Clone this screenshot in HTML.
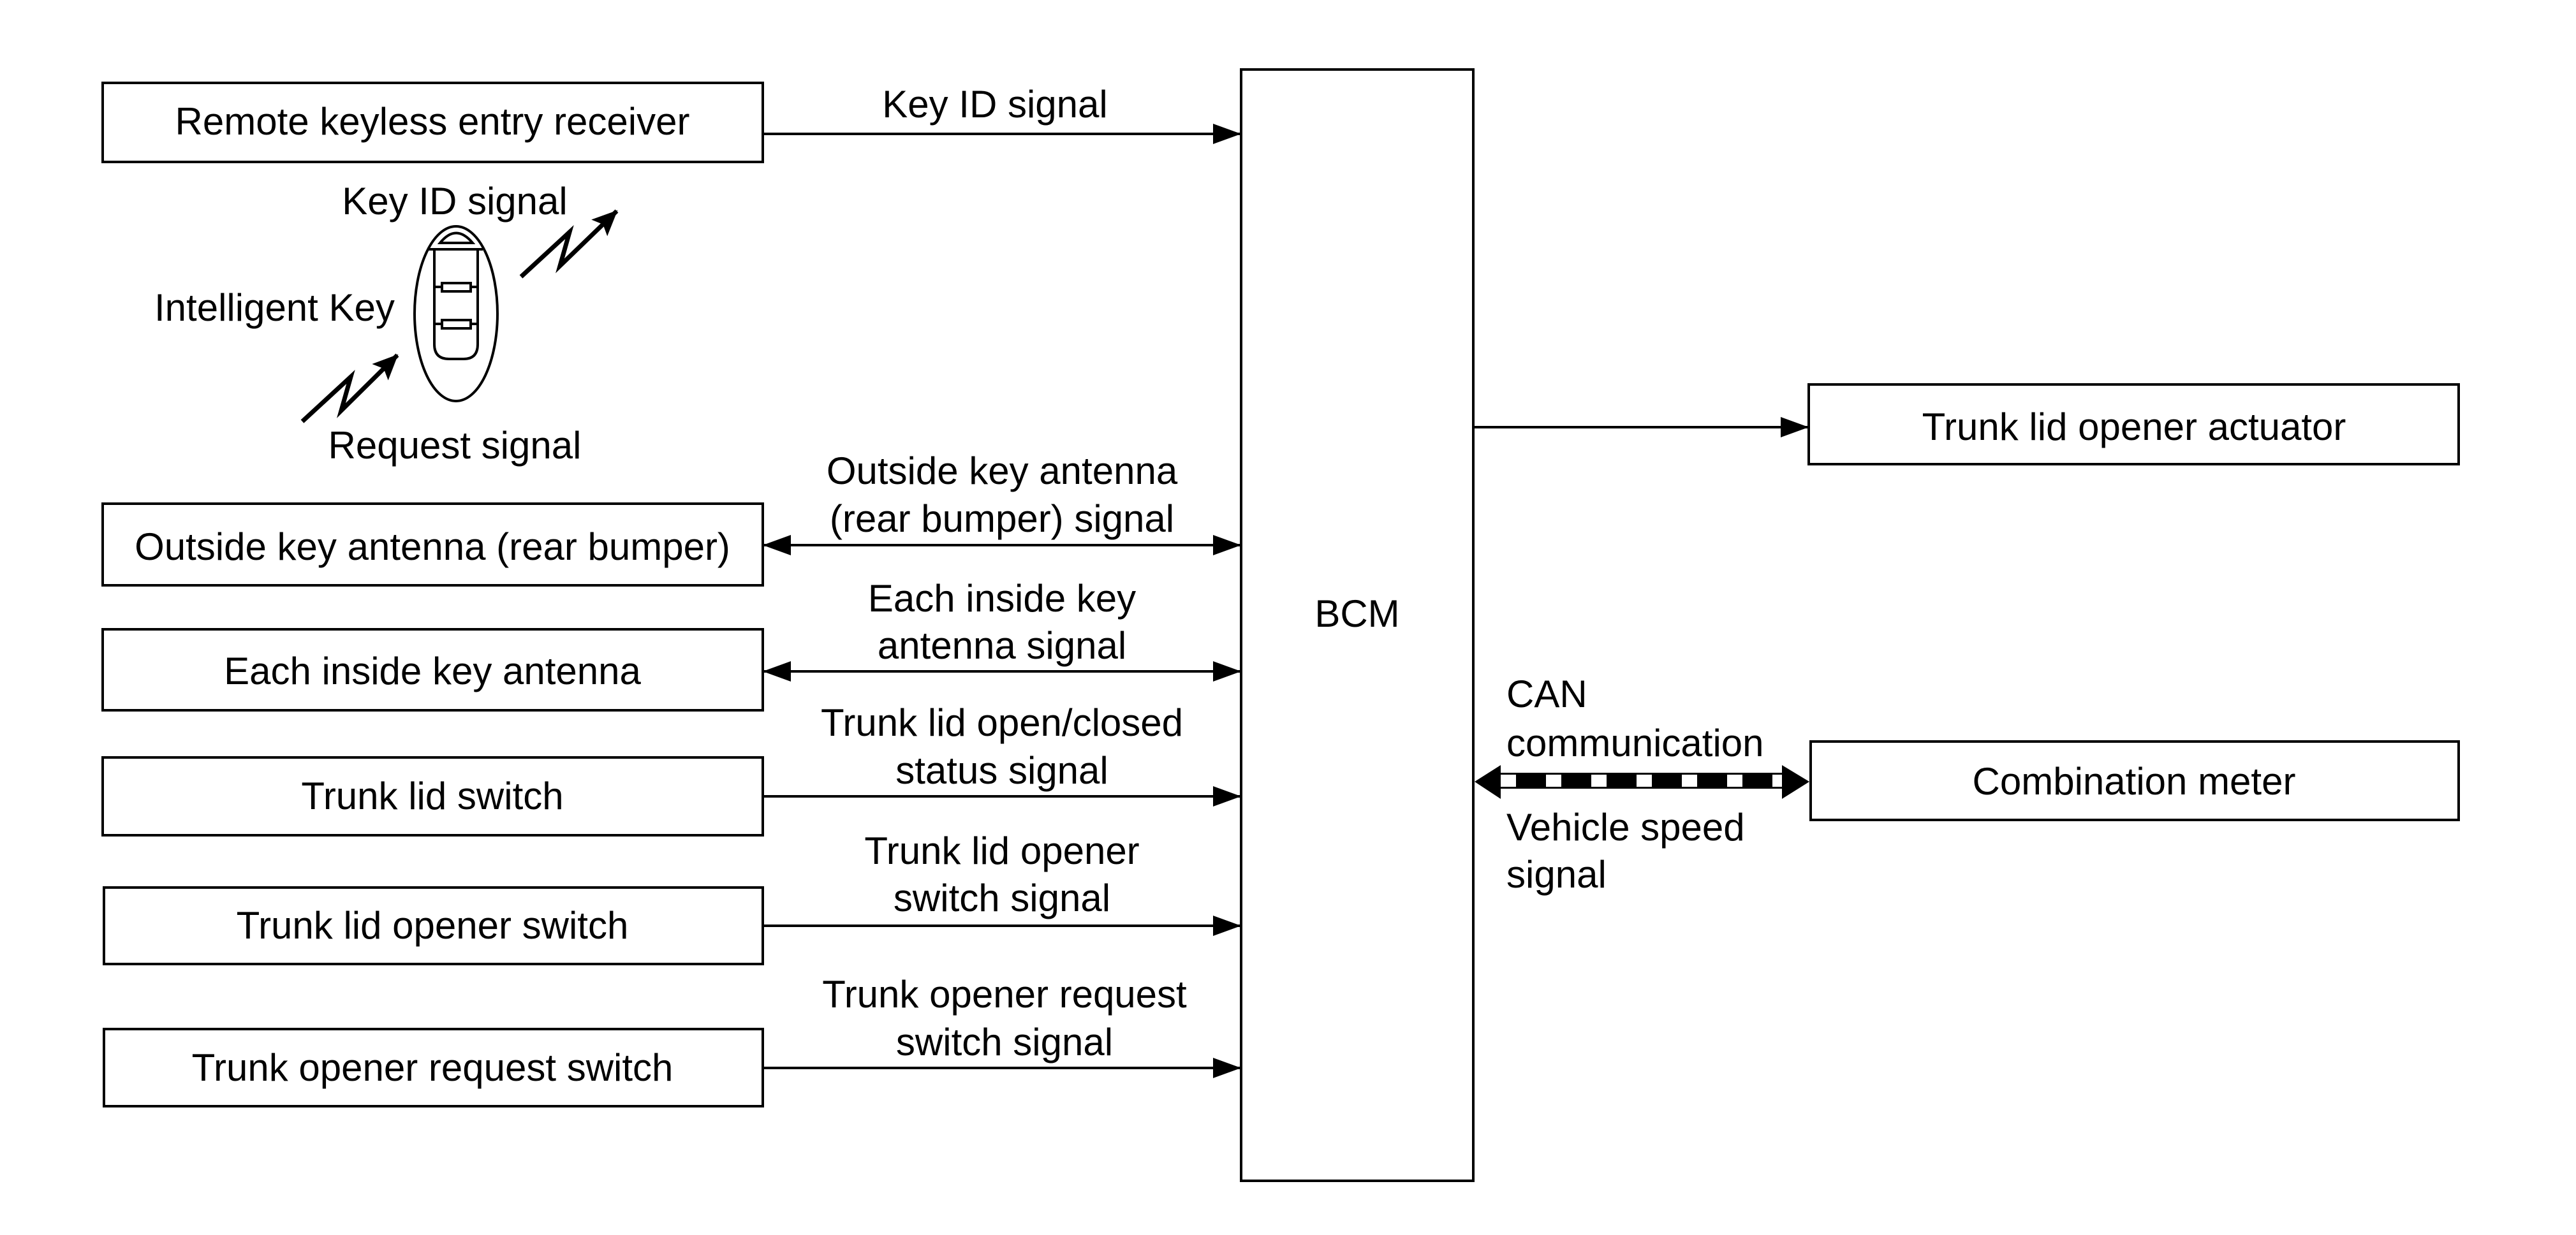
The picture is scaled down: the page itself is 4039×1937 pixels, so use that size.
<!DOCTYPE html>
<html><head><meta charset="utf-8"><style>
html,body{margin:0;padding:0;background:#fff;}
svg{display:block;}
text{font-family:"Liberation Sans",Arial,sans-serif;font-size:60px;fill:#000;}
</style></head><body>
<svg width="4039" height="1937" viewBox="0 0 4039 1937" xmlns="http://www.w3.org/2000/svg">
<defs>
<marker id="ah" markerWidth="44" markerHeight="32" refX="44" refY="16" orient="auto" markerUnits="userSpaceOnUse">
<path d="M0,0 L44,16 L0,32 Z" fill="#000"/></marker>
<marker id="ahs" markerWidth="44" markerHeight="32" refX="0" refY="16" orient="auto" markerUnits="userSpaceOnUse">
<path d="M44,0 L0,16 L44,32 Z" fill="#000"/></marker>
<marker id="zz" markerWidth="40" markerHeight="36" refX="38" refY="18" orient="auto" markerUnits="userSpaceOnUse">
<path d="M0,0 L40,18 L0,36 L8,18 Z" fill="#000"/></marker>
</defs>
<g fill="none" stroke="#000" stroke-width="4">
<rect x="161" y="130" width="1035" height="124"/>
<rect x="161" y="790" width="1035" height="128"/>
<rect x="161" y="987" width="1035" height="127"/>
<rect x="161" y="1188" width="1035" height="122"/>
<rect x="163" y="1392" width="1033" height="120"/>
<rect x="163" y="1614" width="1033" height="121"/>
<rect x="1946" y="109" width="364" height="1743"/>
<rect x="2836" y="603" width="1019" height="125"/>
<rect x="2839" y="1163" width="1016" height="123"/>
<line x1="1196" y1="210" x2="1946" y2="210" marker-end="url(#ah)"/>
<line x1="1196" y1="855" x2="1946" y2="855" marker-end="url(#ah)" marker-start="url(#ahs)"/>
<line x1="1196" y1="1053" x2="1946" y2="1053" marker-end="url(#ah)" marker-start="url(#ahs)"/>
<line x1="1196" y1="1249" x2="1946" y2="1249" marker-end="url(#ah)"/>
<line x1="1196" y1="1452" x2="1946" y2="1452" marker-end="url(#ah)"/>
<line x1="1196" y1="1675" x2="1946" y2="1675" marker-end="url(#ah)"/>
<line x1="2310" y1="670" x2="2836" y2="670" marker-end="url(#ah)"/>
<ellipse cx="715" cy="492" rx="65" ry="137"/>
<line x1="672" y1="391" x2="757" y2="391"/>
<path d="M690,381 Q715,350 741,381 Z"/>
<path d="M681,391 L681,540 Q681,563 704,563 L727,563 Q749,563 749,540 L749,391"/>
<line x1="681" y1="450" x2="749" y2="450"/>
<line x1="681" y1="508" x2="749" y2="508"/>
<rect x="693" y="444" width="45" height="13" fill="#fff"/>
<rect x="693" y="502" width="45" height="13" fill="#fff"/>
<polyline points="817,434 893,364 878,417 967,331" stroke-width="7" marker-end="url(#zz)"/>
<polyline points="474,661 550,591 535,644 623,557" stroke-width="7" marker-end="url(#zz)"/>
</g>
<rect x="2350" y="1212" width="446" height="25" fill="#000"/>
<g fill="#fff">
<rect x="2353" y="1215" width="24" height="19"/>
<rect x="2424" y="1215" width="24" height="19"/>
<rect x="2495" y="1215" width="24" height="19"/>
<rect x="2566" y="1215" width="24" height="19"/>
<rect x="2637" y="1215" width="24" height="19"/>
<rect x="2708" y="1215" width="24" height="19"/>
<rect x="2779" y="1215" width="16" height="19"/>
</g>
<path d="M2312,1226 L2353,1200 L2353,1253 Z" fill="#000"/>
<path d="M2837,1226 L2794,1200 L2794,1253 Z" fill="#000"/>
<g text-anchor="middle">
<text x="678" y="211">Remote keyless entry receiver</text>
<text x="678" y="878">Outside key antenna (rear bumper)</text>
<text x="678" y="1073">Each inside key antenna</text>
<text x="678" y="1269">Trunk lid switch</text>
<text x="678" y="1472">Trunk lid opener switch</text>
<text x="678" y="1695">Trunk opener request switch</text>
<text x="1560" y="184">Key ID signal</text>
<text x="713" y="336">Key ID signal</text>
<text x="713" y="719">Request signal</text>
<text x="1571" y="759">Outside key antenna</text>
<text x="1571" y="834">(rear bumper) signal</text>
<text x="1571" y="959">Each inside key</text>
<text x="1571" y="1033">antenna signal</text>
<text x="1571" y="1154">Trunk lid open/closed</text>
<text x="1571" y="1229">status signal</text>
<text x="1571" y="1355">Trunk lid opener</text>
<text x="1571" y="1429">switch signal</text>
<text x="1575" y="1580">Trunk opener request</text>
<text x="1575" y="1655">switch signal</text>
<text x="2128" y="983">BCM</text>
<text x="3346" y="690">Trunk lid opener actuator</text>
<text x="3346" y="1246">Combination meter</text>
</g>
<text x="242" y="503">Intelligent Key</text>
<text x="2362" y="1109">CAN</text>
<text x="2362" y="1186">communication</text>
<text x="2362" y="1318">Vehicle speed</text>
<text x="2362" y="1392">signal</text>
</svg>
</body></html>
